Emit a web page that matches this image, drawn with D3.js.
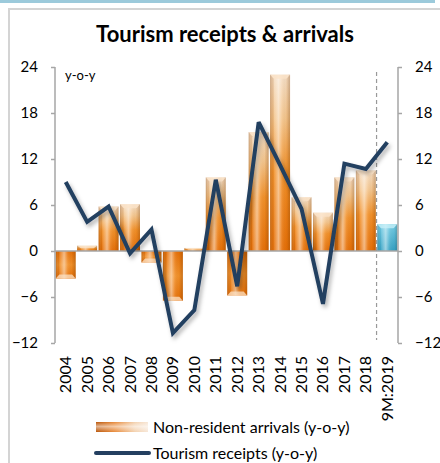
<!DOCTYPE html>
<html>
<head>
<meta charset="utf-8">
<script src="https://cdn.jsdelivr.net/npm/d3@7"></script>
<style>
  html, body { margin: 0; padding: 0; background: #fff; }
  svg { display: block; font-family: Lato, "Open Sans", sans-serif; }
</style>
</head>
<body>
<svg id="chart" width="440" height="463"></svg>
<script>
// Year-on-year growth, %
const categories = ["2004", "2005", "2006", "2007", "2008", "2009", "2010", "2011",
                    "2012", "2013", "2014", "2015", "2016", "2017", "2018", "9M:2019"];
const arrivals = [-3.6, 0.7, 5.8, 6.1, -1.5, -6.5, 0.4, 9.6,
                  -5.8, 15.5, 23.0, 7.0, 5.0, 9.6, 10.5, 3.5];
const receipts = [9.0, 3.8, 5.8, -0.3, 2.8, -10.7, -7.7, 9.3,
                  -4.6, 16.8, 11.2, 5.5, -6.9, 11.4, 10.7, 14.2];
const yTicks = [-12, -6, 0, 6, 12, 18, 24];
const titleText = "Tourism receipts & arrivals";
const unitText = "y-o-y";
const legendLabels = ["Non-resident arrivals (y-o-y)", "Tourism receipts (y-o-y)"];

const svg = d3.select("#chart");
const plot = { left: 55, right: 398, top: 67, bottom: 343 };

const x = d3.scaleBand().domain(categories).range([plot.left, plot.right]).paddingInner(0.07).paddingOuter(0.035);
const y = d3.scaleLinear().domain([-12, 24]).range([plot.bottom, plot.top]);

// ---------- gradients & filters ----------
const defs = svg.append("defs");
function vGrad(id, stops) {
  const g = defs.append("linearGradient").attr("id", id)
    .attr("x1", 0).attr("y1", 0).attr("x2", 0).attr("y2", 1);
  stops.forEach(s => g.append("stop").attr("offset", s[0]).attr("stop-color", s[1]).attr("stop-opacity", s[2] ?? 1));
}
function hGrad(id, stops) {
  const g = defs.append("linearGradient").attr("id", id)
    .attr("x1", 0).attr("y1", 0).attr("x2", 1).attr("y2", 0);
  stops.forEach(s => g.append("stop").attr("offset", s[0]).attr("stop-color", s[1]).attr("stop-opacity", s[2] ?? 1));
}
vGrad("orangeUp", [[0, "#f5dec5"], [0.25, "#f4c48a"], [0.55, "#f29028"], [1, "#e66f06"]]);
vGrad("orangeDown", [[0, "#e66f06"], [0.5, "#f29028"], [1, "#e66f06"]]);
vGrad("teal", [[0, "#78cfe6"], [1, "#35a2c4"]]);
hGrad("sheen", [[0, "#5a2a00", 0.22], [0.14, "#ffffff", 0], [0.42, "#ffffff", 0.5],
                [0.6, "#ffffff", 0.1], [0.86, "#000000", 0], [1, "#5a2a00", 0.2]]);
hGrad("legendSwatch", [[0, "#b9560a"], [0.35, "#e88a3a"], [0.75, "#f3d2b0"], [1, "#f7e6d6"]]);
vGrad("legendSheen", [[0, "#ffffff", 0], [0.45, "#ffffff", 0.55], [1, "#ffffff", 0]]);

const shadow = defs.append("filter").attr("id", "lineShadow")
  .attr("x", "-10%").attr("y", "-10%").attr("width", "130%").attr("height", "130%");
shadow.append("feDropShadow").attr("dx", 2).attr("dy", 3).attr("stdDeviation", 2)
  .attr("flood-color", "#000").attr("flood-opacity", 0.3);

// ---------- frame ----------
svg.append("rect").attr("x", 0).attr("y", 0).attr("width", 435).attr("height", 3).attr("fill", "#9ccadb");
svg.append("path").attr("d", "M9,463 V9 H440").attr("fill", "none")
  .attr("stroke", "#d4d4d4").attr("stroke-width", 2);

// ---------- title ----------
svg.append("text").attr("x", 225).attr("y", 42).attr("text-anchor", "middle")
  .attr("font-size", 22).attr("font-weight", "bold").attr("fill", "#000").text(titleText);

// ---------- bars ----------
const bw = x.bandwidth();
const barG = svg.append("g");
categories.forEach((c, i) => {
  const v = arrivals[i];
  const last = i === categories.length - 1;
  const x0 = x(c);
  const yTop = y(Math.max(0, v)), yBot = y(Math.min(0, v));
  const h = yBot - yTop;
  const fill = last ? "url(#teal)" : (v >= 0 ? "url(#orangeUp)" : "url(#orangeDown)");
  barG.append("rect").attr("x", x0).attr("y", yTop).attr("width", bw).attr("height", h).attr("fill", fill);
  barG.append("rect").attr("x", x0).attr("y", yTop).attr("width", bw).attr("height", h).attr("fill", "url(#sheen)");
  // bevelled cap at the bar's outer end
  const cap = Math.min(4, h / 2);
  const inset = 3.5;
  let pts;
  if (v >= 0) {
    pts = [[x0, yTop], [x0 + bw, yTop], [x0 + bw - inset, yTop + cap], [x0 + inset, yTop + cap]];
  } else {
    pts = [[x0, yBot], [x0 + bw, yBot], [x0 + bw - inset, yBot - cap], [x0 + inset, yBot - cap]];
  }
  barG.append("polygon").attr("points", pts.map(p => p.join(",")).join(" "))
    .attr("fill", last ? "#c9f0f8" : "#fbe3c8").attr("opacity", 0.75);
  // darker side bevels
  barG.append("polygon")
    .attr("points", [[x0, yTop], [x0 + inset, yTop + (v >= 0 ? cap : 0)], [x0 + inset, yBot - (v < 0 ? cap : 0)], [x0, yBot]].map(p => p.join(",")).join(" "))
    .attr("fill", last ? "#1f7d9a" : "#8a3f00").attr("opacity", 0.16);
  barG.append("polygon")
    .attr("points", [[x0 + bw, yTop], [x0 + bw - inset, yTop + (v >= 0 ? cap : 0)], [x0 + bw - inset, yBot - (v < 0 ? cap : 0)], [x0 + bw, yBot]].map(p => p.join(",")).join(" "))
    .attr("fill", last ? "#1f7d9a" : "#8a3f00").attr("opacity", 0.12);
});

// ---------- axes ----------
const axisColor = "#a6a6a6";
const yLeft = svg.append("g").attr("transform", `translate(${plot.left},0)`)
  .call(d3.axisLeft(y).tickValues(yTicks).tickSize(4).tickPadding(13));
const yRight = svg.append("g").attr("transform", `translate(${plot.right},0)`)
  .call(d3.axisRight(y).tickValues(yTicks).tickSize(4).tickPadding(13));
[yLeft, yRight].forEach(g => {
  g.select(".domain").attr("stroke", axisColor).attr("stroke-width", 1.5)
    .attr("d", `M0,${plot.top}V${plot.bottom}`);
  g.selectAll(".tick line").attr("stroke", axisColor).attr("stroke-width", 1.5);
  g.selectAll(".tick text").attr("font-size", 15).attr("fill", "#000")
    .attr("font-family", "Lato, sans-serif");
});
// right-hand tick marks point outward
yRight.selectAll(".tick line").attr("x2", 4);

// zero line
svg.append("line").attr("x1", plot.left).attr("x2", plot.right)
  .attr("y1", y(0)).attr("y2", y(0)).attr("stroke", axisColor).attr("stroke-width", 1.5);

// separator before the partial-year bar
const sepX = x(categories[categories.length - 1]) - (x.step() - bw) / 2;
svg.append("line").attr("x1", sepX).attr("x2", sepX).attr("y1", 72).attr("y2", 340)
  .attr("stroke", "#999").attr("stroke-width", 1.2).attr("stroke-dasharray", "4,3");

// unit label
svg.append("text").attr("x", 65).attr("y", 80).attr("font-size", 13).attr("fill", "#000").text(unitText);

// category labels, rotated
const xLab = svg.append("g");
categories.forEach(c => {
  xLab.append("text")
    .attr("transform", `translate(${x(c) + bw / 2 + 5.5},356) rotate(-90)`)
    .attr("text-anchor", "end").attr("font-size", 16).attr("fill", "#000").text(c);
});

// ---------- receipts line ----------
const line = d3.line().x((d, i) => x(categories[i]) + bw / 2).y(d => y(d));
svg.append("path").datum(receipts).attr("d", line)
  .attr("fill", "none").attr("stroke", "#243f60").attr("stroke-width", 4)
  .attr("stroke-linejoin", "miter").attr("stroke-miterlimit", 3)
  .attr("filter", "url(#lineShadow)");

// ---------- legend ----------
const lg = svg.append("g");
lg.append("rect").attr("x", 96).attr("y", 422).attr("width", 52).attr("height", 10).attr("fill", "url(#legendSwatch)");
lg.append("rect").attr("x", 96).attr("y", 422).attr("width", 52).attr("height", 10).attr("fill", "url(#legendSheen)");
lg.append("text").attr("x", 153).attr("y", 433).attr("font-size", 16).attr("fill", "#000").text(legendLabels[0]);
lg.append("line").attr("x1", 96).attr("x2", 149).attr("y1", 453).attr("y2", 453)
  .attr("stroke", "#243f60").attr("stroke-width", 4).attr("stroke-linecap", "round");
lg.append("text").attr("x", 153).attr("y", 459).attr("font-size", 16).attr("fill", "#000").text(legendLabels[1]);
</script>
</body>
</html>
